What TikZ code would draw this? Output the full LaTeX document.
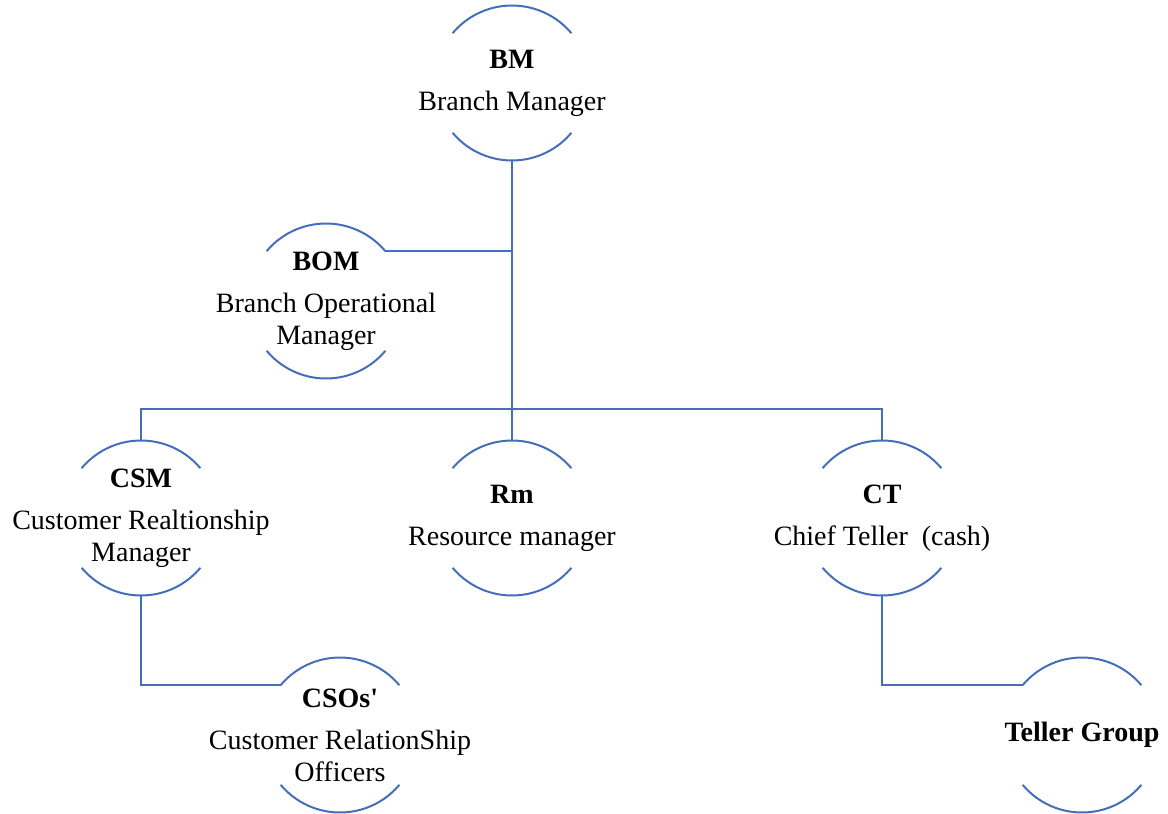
\documentclass[tikz,border=0pt]{standalone}
\usepackage{fontspec}
\setmainfont{Liberation Serif}
\usepackage{xcolor}
\definecolor{linkblue}{RGB}{68,110,185}

\begin{document}
\begin{tikzpicture}[
    x=1pt, y=1pt,
    ring/.style={circle, minimum size=155pt, inner sep=0pt, outer sep=0pt},
    lbl/.style={align=center, inner sep=0pt, font=\fontsize{28}{32}\selectfont},
    wire/.style={draw=linkblue, line width=2pt}
]
\useasboundingbox (0,0) rectangle (1168,-814);

% Positions
\node[ring, label={[lbl]center:{\textbf{BM}\\[10pt]Branch Manager}}] (bm) at (512,-83) {};
\node[ring, label={[lbl]center:{\textbf{BOM}\\[10pt]Branch Operational\\Manager}}] (bom) at (326,-301) {};
\node[ring, label={[lbl]center:{\textbf{CSM}\\[10pt]Customer Realtionship\\Manager}}] (csm) at (141,-518) {};
\node[ring, label={[lbl]center:{\textbf{Rm}\\[10pt]Resource manager}}] (rm) at (512,-518) {};
\node[ring, label={[lbl]center:{\textbf{CT}\\[10pt]Chief Teller\ \ (cash)}}] (ct) at (882,-518) {};
\node[ring, label={[lbl]center:{\textbf{CSOs\textquotesingle}\\[10pt]Customer RelationShip\\Officers}}] (cso) at (340,-735) {};
\node[ring, label={[lbl]center:{\textbf{Teller Group}}}] (tg) at (1082,-735) {};
\coordinate (bus) at (512,-409);

% Arcs
\foreach \n in {bm,bom,csm,rm,ct,cso,tg} {
  \draw[wire] (\n.40) arc[start angle=40, end angle=140, radius=77.5pt];
  \draw[wire] (\n.-140) arc[start angle=-140, end angle=-40, radius=77.5pt];
}

% Links
\draw[wire] (bm.south) -- (rm.north);
\draw[wire] (bom.40) -- (bom.40 -| bm.south);
\draw[wire] (csm.north) |- (bus) -| (ct.north);
\draw[wire] (csm.south) |- (cso.140);
\draw[wire] (ct.south) |- (tg.140);

\end{tikzpicture}
\end{document}
